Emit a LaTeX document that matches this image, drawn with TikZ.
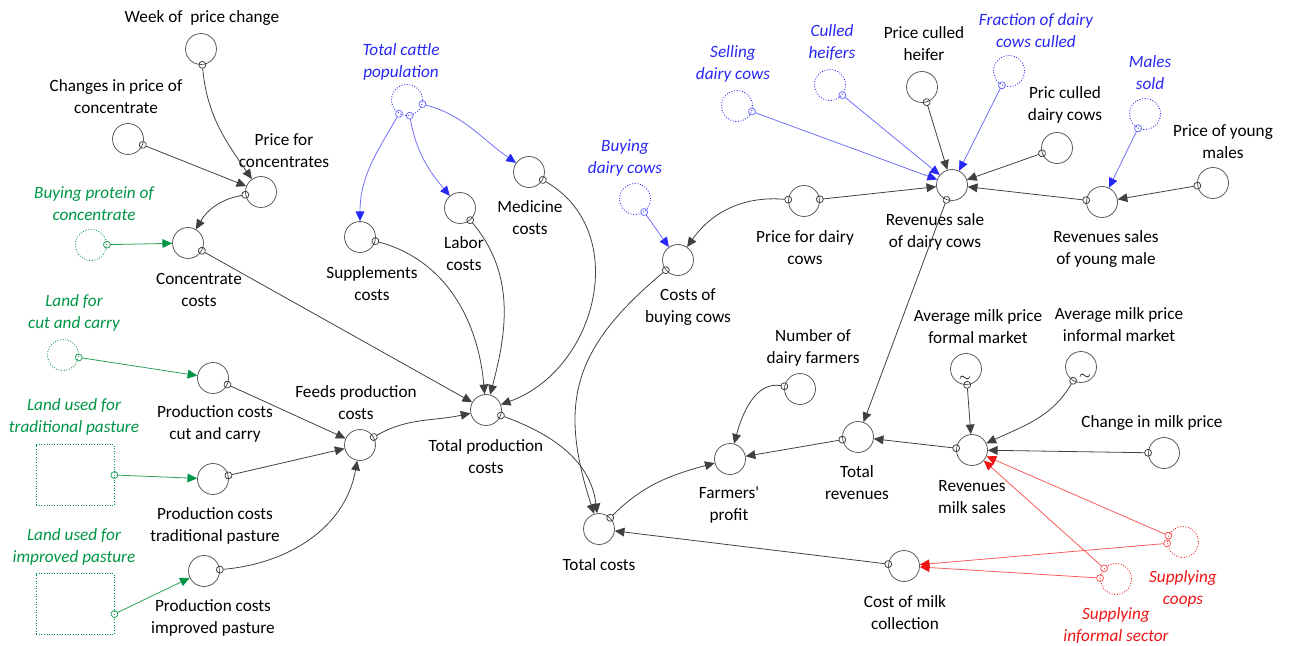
\documentclass[tikz,border=0pt]{standalone}
\usepackage{fontspec}
\setmainfont{Carlito}
\usetikzlibrary{arrows.meta}
\definecolor{vblue}{RGB}{40,40,245}
\definecolor{vbline}{RGB}{110,110,250}
\definecolor{vgreen}{RGB}{0,150,70}
\definecolor{vgline}{RGB}{40,160,90}
\definecolor{vred}{RGB}{240,20,20}
\definecolor{vrline}{RGB}{250,90,90}
\tikzstyle{var} = [circle, minimum size=0.62cm, inner sep=0pt, draw=black!65, line width=0.45pt]
\tikzstyle{shadow} = [circle, minimum size=0.62cm, inner sep=0pt, densely dotted, line width=0.5pt]
\tikzstyle{landbox} = [rectangle, minimum width=1.56cm, minimum height=1.22cm, inner sep=0pt, densely dotted, draw=vgreen, line width=0.5pt]
\tikzstyle{lab} = [align=center, inner sep=0pt, yshift=-1pt, font=\fontsize{9.8}{12.5}\selectfont]
\tikzstyle{blab} = [lab, text=vblue, font=\fontsize{9.8}{12.5}\selectfont\itshape]
\tikzstyle{glab} = [lab, text=vgreen, font=\fontsize{9.8}{12.5}\selectfont\itshape]
\tikzstyle{rlab} = [lab, text=vred, font=\fontsize{9.8}{12.5}\selectfont\itshape]
\tikzstyle{tilde} = [inner sep=0pt, font=\footnotesize]
\tikzstyle{link} = [line width=0.45pt, draw=black!75, shorten <=-2.2pt, {Circle[open,length=4.4pt,width=4.4pt]}-{Triangle[length=5.5pt,width=5pt]}]
\tikzstyle{blink} = [link, draw=vbline, {Circle[open,length=4.4pt,width=4.4pt]}-{Triangle[length=5.5pt,width=5pt,color=vblue]}]
\tikzstyle{glink} = [link, draw=vgline, {Circle[open,length=4.4pt,width=4.4pt]}-{Triangle[length=5.5pt,width=5pt,color=vgreen]}]
\tikzstyle{rlink} = [link, draw=vrline, {Circle[open,length=4.4pt,width=4.4pt]}-{Triangle[length=5.5pt,width=5pt,color=vred]}]

\begin{document}
\begin{tikzpicture}[x=0.02cm, y=-0.02cm]
\useasboundingbox (0,0) rectangle (1292,646);

% Variables
\node (week) [var] at (201,49) {};
\node (cpc) [var] at (128,139) {};
\node (pfc) [var] at (261,192) {};
\node (bpc) [shadow, draw=vgreen] at (91,245) {};
\node (cc) [var] at (188,243) {};
\node (lcc) [shadow, draw=vgreen] at (63,355) {};
\node (pccc) [var] at (213,378) {};
\node (ltp) [landbox] at (75,475) {};
\node (pctp) [var] at (213,479) {};
\node (lip) [landbox] at (75,604) {};
\node (pcip) [var] at (204,571) {};
\node (fpc) [var] at (360,445) {};
\node (tcp) [shadow, draw=vblue] at (407,100) {};
\node (supp) [var] at (360,237) {};
\node (labor) [var] at (460,208) {};
\node (med) [var] at (529,172) {};
\node (tpc) [var] at (486,410) {};
\node (tc) [var] at (599,529) {};
\node (bdc) [shadow, draw=vblue] at (635,199) {};
\node (cbc) [var] at (678,260) {};
\node (pdc) [var] at (804,201) {};
\node (sdc) [shadow, draw=vblue] at (737,106) {};
\node (ch) [shadow, draw=vblue] at (830,85) {};
\node (pch) [var] at (922,87) {};
\node (fdcc) [shadow, draw=vblue] at (1009,71) {};
\node (pcdc) [var] at (1057,148) {};
\node (rsdc) [var] at (952,185) {};
\node (ms) [shadow, draw=vblue] at (1145,114) {};
\node (pym) [var] at (1213,183) {};
\node (rsym) [var] at (1102,202) {};
\node (ndf) [var] at (800,389) {};
\node (fp) [var] at (730,459) {};
\node (tr) [var] at (858,437) {};
\node (ampf) [var] at (966,369) {};
\node (ampi) [var] at (1081,367) {};
\node (rms) [var] at (972,450) {};
\node (cmp) [var] at (1164,453) {};
\node (sc) [shadow, draw=vred] at (1183,542) {};
\node (sis) [shadow, draw=vred] at (1116,579) {};
\node (cmc) [var] at (904,566) {};
\node (ampfT) [tilde] at (965,379) {$\sim$};
\node (ampiT) [tilde] at (1085,377) {$\sim$};

% Labels
\node (weekL) [lab] at (202,16) {Week of~ price change};
\node (cpcL) [lab] at (116,95) {Changes in price of\\concentrate};
\node (pfcL) [lab] at (284,149) {Price for\\concentrates};
\node (bpcL) [glab] at (94,202) {Buying protein of\\concentrate};
\node (ccL) [lab] at (199,288) {Concentrate\\costs};
\node (lccL) [glab] at (74,311) {Land for\\cut and carry};
\node (pcccL) [lab] at (215,422) {Production costs\\cut and carry};
\node (ltpL) [glab] at (74,415) {Land used for\\traditional pasture};
\node (pctpL) [lab] at (215,524) {Production costs\\traditional pasture};
\node (lipL) [glab] at (74,545) {Land used for\\improved pasture};
\node (pcipL) [lab] at (213,616) {Production costs\\improved pasture};
\node (fpcL) [lab] at (356,401) {Feeds production\\costs};
\node (tcpL) [blab] at (401,60) {Total cattle\\population};
\node (suppL) [lab] at (372,282) {Supplements\\costs};
\node (laborL) [lab] at (464,252) {Labor\\costs};
\node (medL) [lab] at (530,216) {Medicine\\costs};
\node (tpcL) [lab] at (486,455) {Total production\\costs};
\node (tcL) [lab] at (599,563) {Total costs};
\node (bdcL) [blab] at (625,156) {Buying\\dairy cows};
\node (cbcL) [lab] at (688,305) {Costs of\\buying cows};
\node (pdcL) [lab] at (805,246) {Price for dairy\\cows};
\node (sdcL) [blab] at (733,62) {Selling\\dairy cows};
\node (chL) [blab] at (832,41) {Culled\\heifers};
\node (pchL) [lab] at (924,42) {Price culled\\heifer};
\node (fdccL) [blab] at (1036,29) {Fraction of dairy\\cows culled};
\node (pcdcL) [lab] at (1065,103) {Pric culled\\dairy cows};
\node (rsdcL) [lab] at (935,230) {Revenues sale\\of dairy cows};
\node (msL) [blab] at (1150,71) {Males\\sold};
\node (pymL) [lab] at (1223,140) {Price of young\\males};
\node (rsymL) [lab] at (1106,247) {Revenues sales\\of young male};
\node (ndfL) [lab] at (813,346) {Number of\\dairy farmers};
\node (fpL) [lab] at (729,503) {Farmers\textquotesingle\\profit};
\node (trL) [lab] at (857,481) {Total\\revenues};
\node (ampfL) [lab] at (978,325) {Average milk price\\formal market};
\node (ampiL) [lab] at (1119,323) {Average milk price\\informal market};
\node (rmsL) [lab] at (972,495) {Revenues\\milk sales};
\node (cmpL) [lab] at (1152,421) {Change in milk price};
\node (scL) [rlab] at (1183,587) {Supplying\\coops};
\node (sisL) [rlab] at (1116,624) {Supplying\\informal sector};
\node (cmcL) [lab] at (905,611) {Cost of milk\\collection};

% Arrows
\draw [link] (week) to [out=-85, in=125] (pfc);
\draw [link] (cpc) -- (pfc);
\draw [link] (pfc) to [out=190, in=60] (cc);
\draw [glink] (bpc) -- (cc);
\draw [link] (cc) -- (tpc);
\draw [glink] (lcc) -- (pccc);
\draw [glink] (ltp.east) -- (pctp);
\draw [glink] ([yshift=-0.2cm]lip.east) -- (pcip);
\draw [link] (pccc) -- (fpc);
\draw [link] (pctp) -- (fpc);
\draw [link] (pcip) to [out=5, in=-100] (fpc);
\draw [link] (fpc) to [out=30, in=192] (tpc);
\draw [blink] (tcp) to [out=-120, in=90] (supp);
\draw [blink] (tcp) to [out=-80, in=130] (labor);
\draw [blink] (tcp) to [out=-15, in=145] (med);
\draw [link] (supp) to [out=-15, in=95] (tpc);
\draw [link] (labor) to [out=-50, in=75] (tpc);
\draw [link] (med) to [out=-30, in=20, looseness=1.15] (tpc);
\draw [link] (tpc) to [out=-20, in=97] (tc);
\draw [link] (cbc) to [out=220, in=108, looseness=1.2] (tc);
\draw [blink] (bdc) -- (cbc);
\draw [link] (pdc) to [out=175, in=55] (cbc);
\draw [link] (pdc) -- (rsdc);
\draw [blink] (sdc) -- (rsdc);
\draw [blink] (ch) -- (rsdc);
\draw [link] (pch) -- (rsdc);
\draw [blink] (fdcc) -- (rsdc);
\draw [link] (pcdc) -- (rsdc);
\draw [link] (rsym) -- (rsdc);
\draw [blink] (ms) -- (rsym);
\draw [link] (pym) -- (rsym);
\draw [link] (rsdc) -- (tr);
\draw [link] (ndf) to [out=170, in=75] (fp);
\draw [link] (tr) -- (fp);
\draw [link] (rms) -- (tr);
\draw [link] (tc) to [out=45, in=195] (fp);
\draw [link] (cmc) -- (tc);
\draw [link] (ampf) -- (rms);
\draw [link] (ampi) to [out=-120, in=25] (rms);
\draw [link] (cmp) -- (rms);
\draw [rlink] (sc) -- (rms);
\draw [rlink] (sis) -- (rms);
\draw [rlink] (sc) -- (cmc);
\draw [rlink] (sis) -- (cmc);

\end{tikzpicture}
\end{document}
